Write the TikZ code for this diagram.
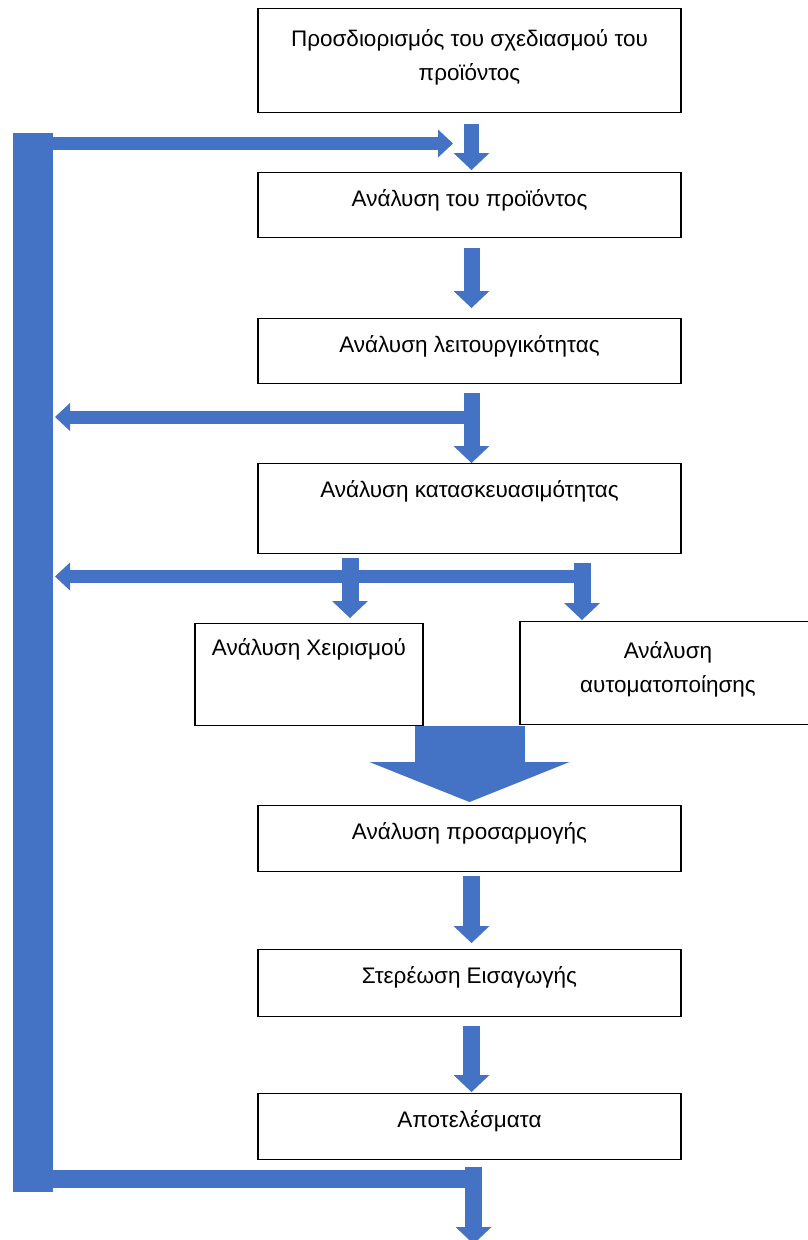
\documentclass[tikz,border=0pt]{standalone}
\usepackage{fontspec}
\setmainfont{Liberation Sans}
\usetikzlibrary{arrows.meta}
\definecolor{flowblue}{HTML}{4472C4}

\tikzset{
  stage/.style={draw, line width=1.4pt, anchor=north, minimum width=423pt,
    inner xsep=4pt, inner ysep=0pt, align=center,
    font=\fontsize{22.5}{34}\selectfont, text height=34pt, text depth=#1},
  flow/.style={draw=flowblue, line width=17pt,
    -{Triangle[width=36pt,length=17pt,line width=0pt]}},
  feed/.style={draw=flowblue, line width=13pt,
    -{Triangle[width=28pt,length=15pt,line width=0pt]}},
  wide/.style={draw=flowblue, line width=110pt,
    -{Triangle[width=200pt,length=40pt,line width=0pt]}},
  feedbar/.style={draw=flowblue, line width=#1},
}

\begin{document}
\begin{tikzpicture}[x=1pt, y=-1pt]
	\useasboundingbox (0,0) rectangle (807,1240);

	% stages
	\node[stage=32pt, text height=72pt] (b1) at (469.5,8) {Προσδιορισμός του σχεδιασμού του\\προϊόντος};
	\node[stage=31pt] (b2) at (469.5,172) {Ανάλυση του προϊόντος};
	\node[stage=31pt] (b3) at (469.5,318) {Ανάλυση λειτουργικότητας};
	\node[stage=56pt] (b4) at (469.5,463) {Ανάλυση κατασκευασιμότητας};
	\node[stage=70pt, text height=32pt, minimum width=228pt] (b5) at (309,623) {Ανάλυση Χειρισμού};
	\node[stage=32pt, text height=71pt, minimum width=296pt] (b6) at (668,621) {Ανάλυση\\αυτοματοποίησης};
	\node[stage=32pt] (b7) at (469.5,805) {Ανάλυση προσαρμογής};
	\node[stage=33pt] (b8) at (469.5,949) {Στερέωση Εισαγωγής};
	\node[stage=32pt] (b9) at (469.5,1093) {Αποτελέσματα};

	% feedback bar
	\coordinate (fbtop) at (33,133);
	\coordinate (fbbot) at (33,1192);
	\draw[feedbar=40pt] (fbtop) -- (fbbot);

	\coordinate (in1) at (453,143.5);
	\coordinate (out1) at (473,417);
	\coordinate (out2) at (585,576.5);
	\coordinate (turn) at (482,1179);
	\draw[feed] (fbtop |- in1) -- (in1);
	\draw[feed, shorten >=22pt] (out1) -- (fbtop |- out1);
	\draw[feed, shorten >=22pt] (out2) -- (fbtop |- out2);
	\draw[feedbar=18pt] (fbbot |- turn) -- (turn);

	% main flow
	\draw[flow, line width=15pt, shorten <=11pt, shorten >=2pt] ([xshift=2pt]b1.south) -- ([xshift=2pt]b2.north);
	\draw[flow, line width=16pt, shorten <=10pt, shorten >=10pt] ([xshift=2pt]b2.south) -- ([xshift=2pt]b3.north);
	\draw[flow, line width=16pt, shorten <=9pt] ([xshift=2pt]b3.south) -- ([xshift=2pt]b4.north);

	\coordinate (s1) at (350,558);
	\coordinate (s2) at (582,563);
	\draw[flow, shorten >=5pt] (s1) -- (s1 |- b5.north);
	\draw[flow, shorten >=1pt] (s2) -- (s2 |- b6.north);

	\draw[wide, shorten >=3pt] (b7.north |- b5.south) -- (b7.north);

	\draw[flow, shorten <=4pt, shorten >=6pt] ([xshift=2pt]b7.south) -- ([xshift=2pt]b8.north);
	\draw[flow, shorten <=9pt, shorten >=1pt] ([xshift=2pt]b8.south) -- ([xshift=2pt]b9.north);

	\coordinate (out3) at (473.5,1167);
	\coordinate (exit) at (473.5,1244);
	\draw[flow] (out3) -- (exit);

\end{tikzpicture}
\end{document}
